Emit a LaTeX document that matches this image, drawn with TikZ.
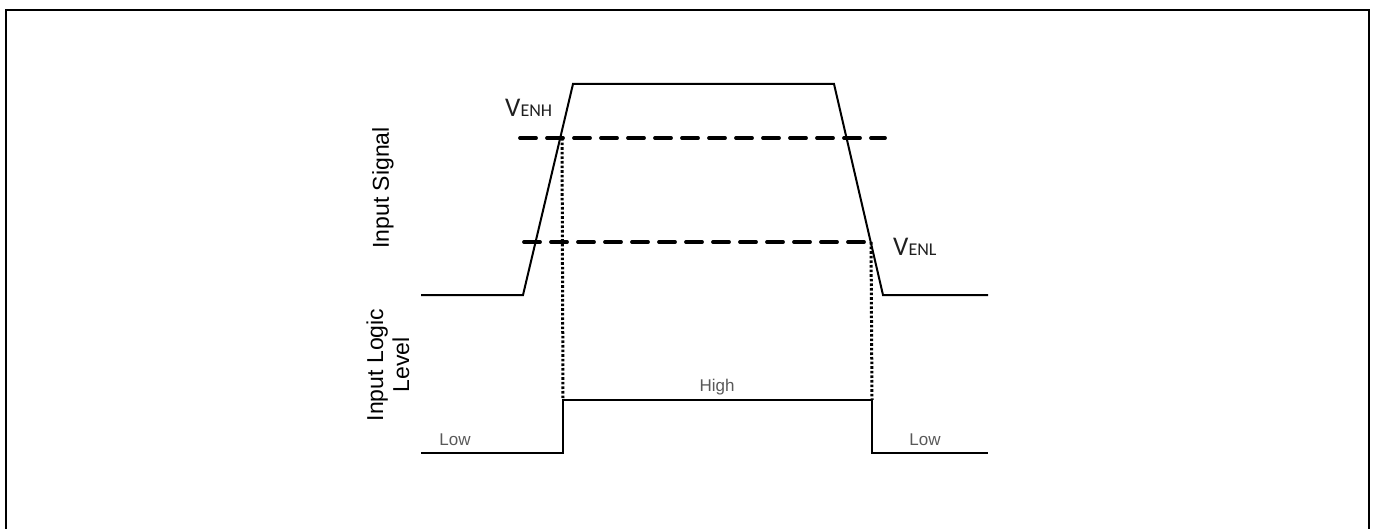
\documentclass[tikz,border=0pt]{standalone}
\usepackage{fontspec}
\setmainfont{Liberation Sans}
\newfontfamily\calib{Carlito}
\begin{document}
\begin{tikzpicture}[x=1pt,y=-1pt,
  frameline/.style={line width=2.2pt},
  sigline/.style={line width=2pt, line join=miter},
  thresh/.style={line width=3.8pt, line cap=round, dash pattern=on 16pt off 11pt},
  dotline/.style={line width=3pt, dash pattern=on 2.6pt off 2pt},
  axislabel/.style={font=\fontsize{23}{26}\selectfont, rotate=90, align=center, inner sep=0pt},
  levellabel/.style={font=\fontsize{17}{19}\selectfont, text=black!65, inner sep=0pt},
  vlabel/.style={font=\calib, text=black!88, inner sep=0pt, anchor=base west}]
\useasboundingbox (0,0) rectangle (1375,529);
% frame
\coordinate (fbl) at (6,530);
\coordinate (ftl) at (6,10);
\coordinate (ftr) at (1369,10);
\coordinate (fbr) at (1369,530);
\draw[frameline] (fbl) -- (ftl) -- (ftr) -- (fbr);
% input signal
\coordinate (s0) at (421,295);
\coordinate (s1) at (523,295);
\coordinate (s2) at (573,84);
\coordinate (s3) at (834,84);
\coordinate (s4) at (883,295);
\coordinate (s5) at (988,295);
\draw[sigline] (s0) -- (s1) -- (s2) -- (s3) -- (s4) -- (s5);
% thresholds
\coordinate (h0) at (520,138);
\coordinate (h1) at (885,138);
\coordinate (l0) at (524,242);
\coordinate (l1) at (872,242);
\draw[thresh] (h0) -- (h1);
\draw[thresh] (l0) -- (l1);
% logic level
\coordinate (g0) at (421,453);
\coordinate (g1) at (563,453);
\coordinate (g2) at (563,400);
\coordinate (g3) at (872,400);
\coordinate (g4) at (872,453);
\coordinate (g5) at (988,453);
\draw[sigline] (g0) -- (g1) -- (g2) -- (g3) -- (g4) -- (g5);
% dotted projections
\coordinate (dh) at (562,138);
\coordinate (dl) at (871,242);
\draw[dotline] (dh) -- (g2);
\draw[dotline] (dl) -- (g3);
% labels
\node[vlabel] (venh) at (505,117) {\fontsize{27}{30}\selectfont V\fontsize{18}{20}\selectfont ENH};
\node[vlabel] (venl) at (893,255) {\fontsize{27}{30}\selectfont V\fontsize{18}{20}\selectfont ENL};
\node[axislabel] (insig) at (383,188) {Input Signal};
\node[axislabel] (inlog) at (388,365) {Input Logic\\Level};
\node[levellabel] (low1) at (455,440) {Low};
\node[levellabel] (high) at (717,387) {High};
\node[levellabel] (low2) at (925,440) {Low};
\end{tikzpicture}
\end{document}
